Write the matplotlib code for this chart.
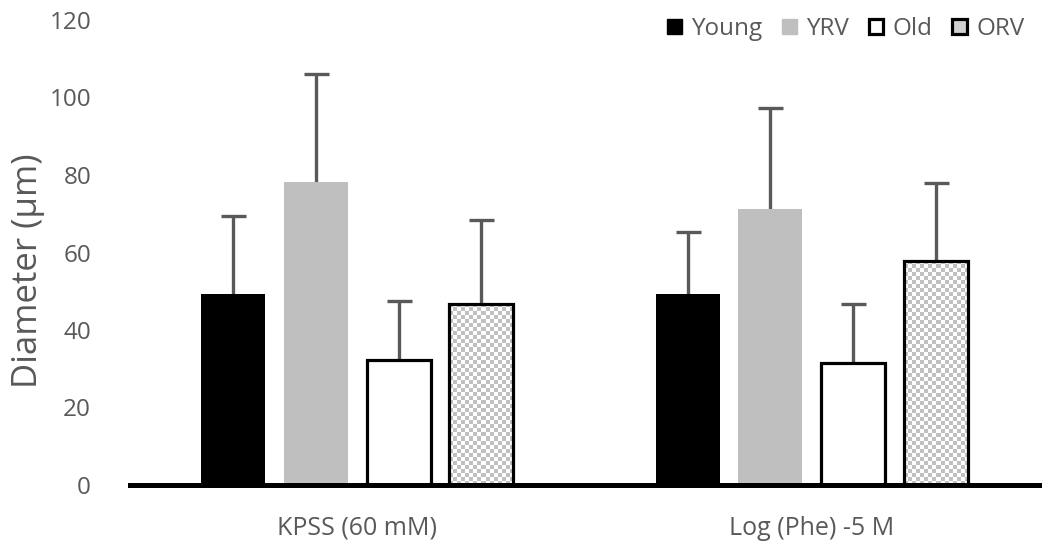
import numpy as np
import matplotlib.pyplot as plt
from matplotlib.patches import Patch

plt.rcParams['font.family'] = ['Open Sans', 'DejaVu Sans']

groups = ["KPSS (60 mM)", "Log (Phe) -5 M"]
series = ["Young", "YRV", "Old", "ORV"]

# mean diameter and SD (um) per series, one value per group
means = {
    "Young": [49.4, 49.4],
    "YRV": [78.3, 71.1],
    "Old": [32.3, 31.5],
    "ORV": [46.8, 57.9],
}
sds = {
    "Young": [19.9, 15.8],
    "YRV": [27.7, 26.2],
    "Old": [15.3, 15.3],
    "ORV": [21.6, 20.1],
}

grey = "#595959"
face = {"Young": "black", "YRV": "#bfbfbf", "Old": "white", "ORV": "none"}
edge = {"Young": "black", "YRV": "#bfbfbf", "Old": "black", "ORV": "black"}
lw = {"Young": 0, "YRV": 0, "Old": 2.3, "ORV": 2.3}

W, H = 1042, 544
fig = plt.figure(figsize=(W / 100, H / 100), dpi=100)
ax = fig.add_axes([130 / W, 59 / H, 909 / W, 465 / H])
ax.set_xlim(-0.5, 1.5)
ax.set_ylim(0, 120)

x = np.arange(len(groups))
step = 0.182
width = 0.141

for i, name in enumerate(series):
    xs = x + (i - 1.5) * step
    bars = ax.bar(xs, means[name], width, color=face[name],
                  edgecolor=edge[name], linewidth=lw[name], zorder=3)
    if name == "ORV":
        # checkerboard fill, about 4 px per cell, clipped to each bar
        for b in bars:
            x0, y0 = b.get_x(), 0
            x1, y1 = x0 + b.get_width(), b.get_height()
            (px0, py0), (px1, py1) = ax.transData.transform([(x0, y0), (x1, y1)])
            nx = max(1, int(round((px1 - px0) / 4.0)))
            ny = max(1, int(round((py1 - py0) / 4.0)))
            ii, jj = np.indices((ny, nx))
            checker = np.where((ii + jj) % 2 == 0, 0.75, 1.0)
            im = ax.imshow(checker, cmap="gray", vmin=0, vmax=1,
                           extent=(x0, x1, y0, y1), origin="lower",
                           aspect="auto", interpolation="nearest", zorder=2)
            im.set_clip_path(b)
    eb = ax.errorbar(xs, means[name], yerr=[np.zeros(len(xs)), sds[name]],
                     fmt="none", ecolor=grey, elinewidth=2.4, capsize=9,
                     capthick=2.4, zorder=2.5)
    eb[1][0].set_visible(False)

ax.set_xlim(-0.5, 1.5)
ax.set_ylim(0, 120)

ax.set_yticks(np.arange(0, 121, 20))
ax.set_xticks(x)
ax.set_xticklabels(groups)
ax.tick_params(axis="y", length=0, pad=28, labelsize=17.5, labelcolor=grey)
ax.tick_params(axis="x", length=0, pad=22, labelsize=18, labelcolor=grey)

for s in ["top", "right", "left"]:
    ax.spines[s].set_visible(False)
ax.spines["bottom"].set_linewidth(3.6)
ax.spines["bottom"].set_color("black")
ax.spines["bottom"].set_zorder(4)

ax.set_ylabel("Diameter (µm)", fontsize=25, color=grey)
ax.yaxis.set_label_coords(-85 / 909, 0.46)

handles = [
    Patch(facecolor="black", edgecolor="black"),
    Patch(facecolor="#bfbfbf", edgecolor="#bfbfbf"),
    Patch(facecolor="white", edgecolor="black", linewidth=2.3),
    Patch(facecolor="#d0d0d0", edgecolor="black", linewidth=2.3),
]
leg = fig.legend(handles, series, loc="upper right", bbox_to_anchor=(1.0, 1.0),
                 ncol=4, frameon=False, fontsize=17.5, handlelength=0.6,
                 handleheight=0.6, handletextpad=0.4, columnspacing=0.8,
                 borderaxespad=0.3)
for t in leg.get_texts():
    t.set_color(grey)

fig.savefig("out.png", dpi=100)
